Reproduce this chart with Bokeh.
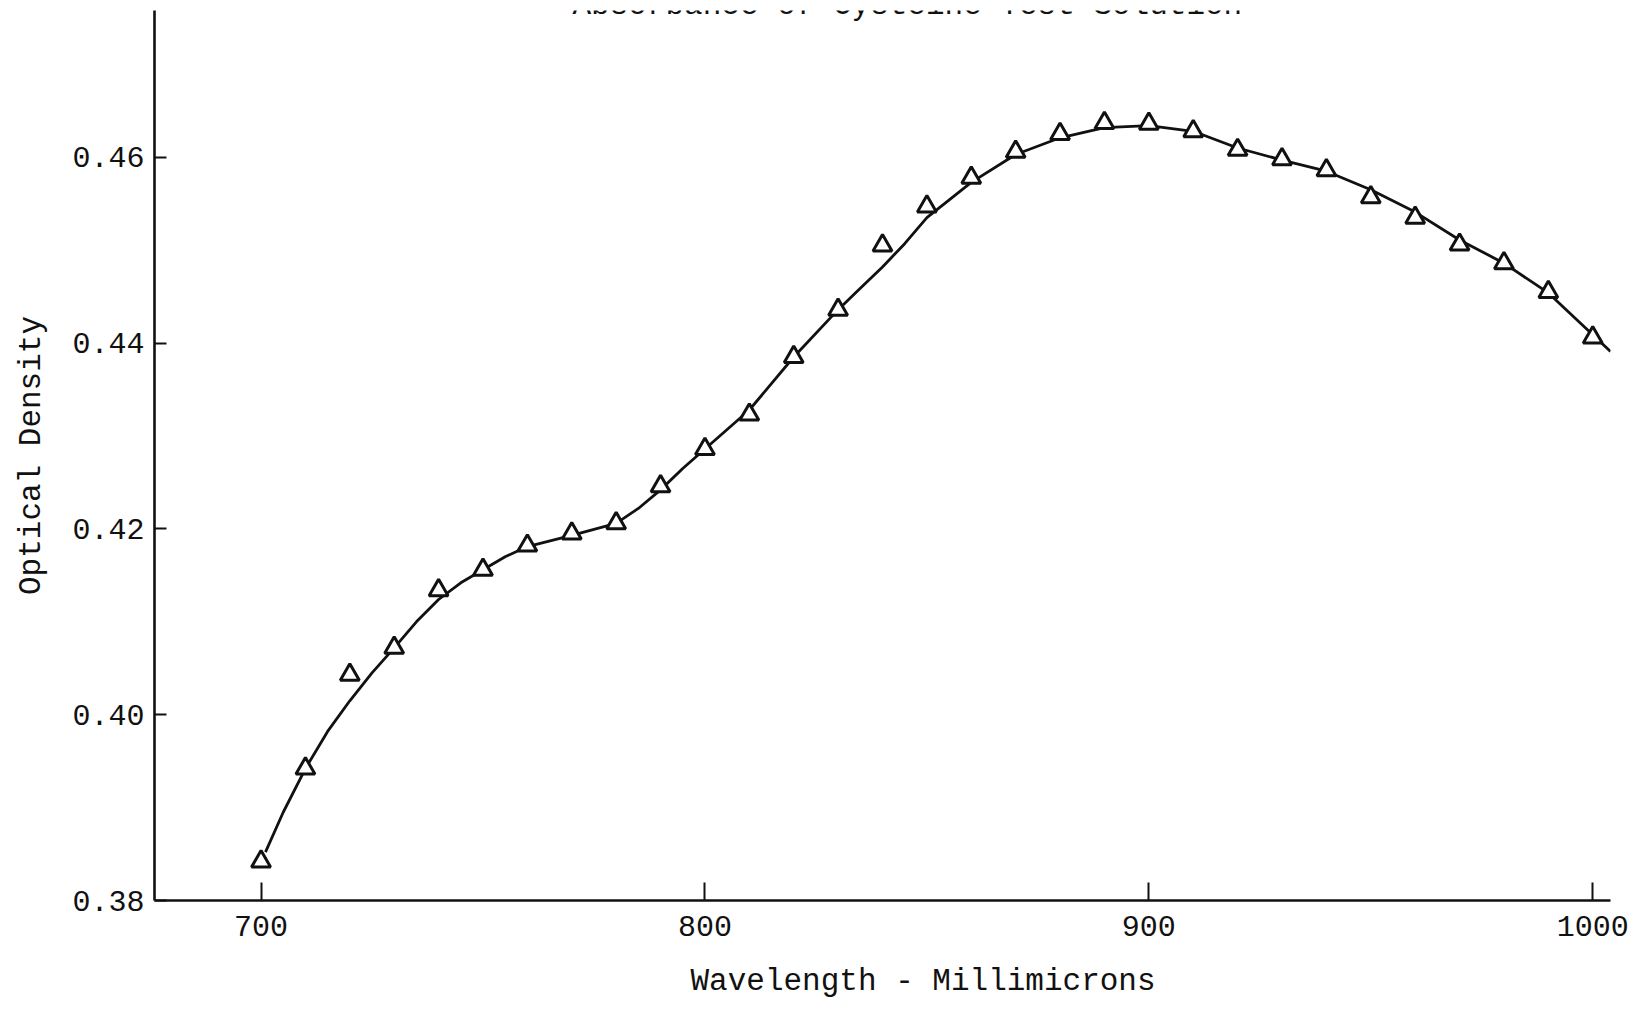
from bokeh.plotting import figure
from bokeh.models import Range1d, Label, FixedTicker, Title
from bokeh.embed import file_html
from bokeh.resources import INLINE

# Measured points (wavelength in millimicrons, optical density)
wavelength = [700, 710, 720, 730, 740, 750, 760, 770, 780, 790, 800,
              810, 820, 830, 840, 850, 860, 870, 880, 890, 900,
              910, 920, 930, 940, 950, 960, 970, 980, 990, 1000]
density = [0.3842, 0.3942, 0.4043, 0.4072, 0.4134, 0.4156, 0.4182, 0.4195, 0.4206, 0.4246, 0.4286,
           0.4323, 0.4385, 0.4436, 0.4505, 0.4547, 0.4578, 0.4606, 0.4625, 0.4637, 0.4636,
           0.4628, 0.4608, 0.4598, 0.4586, 0.4557, 0.4535, 0.4506, 0.4486, 0.4455, 0.4406]

# Hand-drawn smooth curve
curve_x = [701, 705, 710, 715, 720, 725, 730, 735, 740, 745, 750, 755, 760, 770, 780, 785, 790, 795, 800,
           810, 820, 830, 835, 840, 845, 850, 860, 870, 880, 890, 900,
           910, 920, 930, 940, 950, 960, 970, 980, 990, 1000, 1004]
curve_y = [0.3852, 0.3895, 0.3942, 0.3982, 0.4015, 0.4045, 0.4072, 0.4100, 0.4124, 0.4142, 0.4156,
           0.4170, 0.4181, 0.4193, 0.4206, 0.4222, 0.4242, 0.4265, 0.4286,
           0.4328, 0.4385, 0.4436, 0.4459, 0.4482, 0.4507, 0.4535, 0.4573, 0.4603, 0.4621, 0.4632, 0.4634,
           0.4628, 0.4610, 0.4597, 0.4585, 0.4565, 0.4541, 0.4511, 0.4486, 0.4454, 0.4409, 0.4391]

x_ticks = [700, 800, 900, 1000]
y_ticks = [0.38, 0.40, 0.42, 0.44, 0.46]
y_tick_labels = {0.38: "0.38", 0.40: "0.40", 0.42: "0.42", 0.44: "0.44", 0.46: "0.46"}

title_text = "Absorbance of Cysteine Test Solution"
x_title = "Wavelength - Millimicrons"
y_title = "Optical Density"

FONT = "Liberation Mono"
INK = "#111111"

p = figure(width=1634, height=1021, output_backend="svg", toolbar_location=None,
           x_range=Range1d(676, 1004), y_range=Range1d(0.38, 0.4758),
           min_border_left=154, min_border_right=24, min_border_top=10, min_border_bottom=120)
p.outline_line_color = None
p.grid.visible = False
p.background_fill_color = "white"
p.border_fill_color = "white"

p.line(curve_x, curve_y, line_color=INK, line_width=2.8)
p.scatter(wavelength, density, marker="triangle", size=19, line_color=INK,
          line_width=3, fill_color="white")

for ax in (p.xaxis[0], p.yaxis[0]):
    ax.axis_line_color = INK
    ax.axis_line_width = 2.6
    ax.major_tick_line_color = INK
    ax.major_tick_line_width = 2
    ax.major_tick_out = 0
    ax.minor_tick_line_color = None
    ax.major_label_text_font = FONT
    ax.major_label_text_font_size = "30px"
    ax.major_label_text_color = INK
    ax.axis_label_text_font = FONT
    ax.axis_label_text_font_size = "31px"
    ax.axis_label_text_font_style = "normal"
    ax.axis_label_text_color = INK

p.xaxis.ticker = FixedTicker(ticks=x_ticks)
p.xaxis.major_tick_in = 18
p.xaxis.major_label_standoff = 15

p.yaxis.ticker = FixedTicker(ticks=y_ticks)
p.yaxis.major_label_overrides = y_tick_labels
p.yaxis.major_tick_in = 12
p.yaxis.major_label_standoff = 10
p.yaxis.axis_label = y_title
p.yaxis.axis_label_standoff = 20

# x-axis title, set off-centre to the right as in the original
p.add_layout(Title(text=x_title, align="left", offset=536, standoff=46,
                   text_font=FONT, text_font_size="31px", text_font_style="normal",
                   text_color=INK), "below")
# chart title, cut off at the top edge as in the original scan
p.add_layout(Label(x=845.6, y=0.4763, text=title_text, text_font=FONT, text_font_size="31px",
                   text_color=INK, text_align="center", text_baseline="alphabetic"))

open("out.html", "w").write(file_html(p, INLINE))
